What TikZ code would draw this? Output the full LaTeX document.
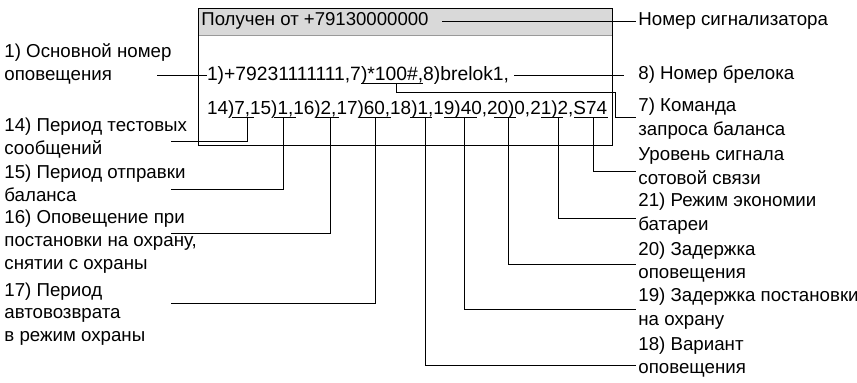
\documentclass[tikz,border=0pt]{standalone}
\usepackage{fontspec}
\setmainfont{Liberation Sans}
\usetikzlibrary{positioning,calc}

\tikzset{
  lbl/.style={inner sep=1pt, align=left, font=\fontsize{9.35}{11.4}\selectfont},
  rlbl/.style={lbl, font=\fontsize{9.35}{11.9}\selectfont},
  hdrtext/.style={inner sep=0pt, font=\fontsize{9.3}{11.4}\selectfont},
  row/.style={inner sep=0pt, outer sep=0pt, text height=7pt, text depth=1.2pt, font=\fontsize{9.65}{11.4}\selectfont},
  rowb/.style={row, font=\fontsize{9.47}{11.4}\selectfont},
  wire/.style={line width=0.5pt},
}

\begin{document}
\begin{tikzpicture}[x=0.5pt,y=-0.5pt]
  \useasboundingbox (0,0) rectangle (857,382);

  % SMS frame
  \fill[black!15] (198,8) rectangle (612,35);
  \draw[black!40] (198,35) -- (612,35);
  \draw[wire] (198,8) rectangle (612,145);
  \node[hdrtext, anchor=west] (hdr) at (201,21) {Получен от +79130000000};

  % first row
  \node[row, anchor=west] (r1a) at (207,75) {1)+79231111111,7};
  \node[row, right=0pt of r1a] (v7) {)*100\#,};
  \node[row, right=0pt of v7] (r1c) {8)brelok1,};
  \draw[wire] (v7.south west) -- (v7.south east);

  % second row
  \node[rowb, anchor=west] (k14) at (207,109) {14};
  \node[rowb, right=0pt of k14] (v14) {)7,};
  \node[rowb, right=0pt of v14] (k15) {15};
  \node[rowb, right=0pt of k15] (v15) {)1,};
  \node[rowb, right=0pt of v15] (k16) {16};
  \node[rowb, right=0pt of k16] (v16) {)2,};
  \node[rowb, right=0pt of v16] (k17) {17};
  \node[rowb, right=0pt of k17] (v17) {)60,};
  \node[rowb, right=0pt of v17] (k18) {18};
  \node[rowb, right=0pt of k18] (v18) {)1,};
  \node[rowb, right=0pt of v18] (k19) {19};
  \node[rowb, right=0pt of k19] (v19) {)40,};
  \node[rowb, right=0pt of v19] (k20) {20};
  \node[rowb, right=0pt of k20] (v20) {)0,};
  \node[rowb, right=0pt of v20] (k21) {21};
  \node[rowb, right=0pt of k21] (v21) {)2,};
  \node[rowb, right=0pt of v21] (vS) {S74};

  % underlines (a bit off the values, as drawn by hand)
  \foreach \n/\u in {v14/2,v15/1.5,v16/1,v17/0.5,v18/-0.5,v19/-5,v20/-7,v21/-5,vS/0.5}
    \draw[wire] ([xshift=\u pt]\n.south west) -- ([xshift=\u pt]\n.south east);

  % left labels
  \node[lbl, anchor=west] (l1) at (2,64) {1) Основной номер\\оповещения};
  \node[lbl, anchor=west] (l14) at (2,138) {14) Период тестовых\\сообщений};
  \node[lbl, anchor=west] (l15) at (2,183.5) {15) Период отправки\\баланса};
  \node[lbl, anchor=west] (l16) at (2,241.5) {16) Оповещение при\\постановки на охрану,\\снятии с охраны};
  \node[lbl, anchor=west] (l17) at (2,314) {17) Период\\автовозврата\\в режим охраны};

  % right labels
  \node[rlbl, anchor=west] (lN) at (636,21) {Номер сигнализатора};
  \node[rlbl, anchor=west] (l8) at (636,75) {8) Номер брелока};
  \node[rlbl, anchor=west] (l7) at (636,119) {7) Команда\\запроса баланса};
  \node[rlbl, anchor=west] (lS) at (636,166.5) {Уровень сигнала\\сотовой связи};
  \node[rlbl, anchor=west] (l21) at (636,214) {21) Режим экономии\\батареи};
  \node[rlbl, anchor=west] (l20) at (636,262) {20) Задержка\\оповещения};
  \node[rlbl, anchor=west] (l19) at (636,309) {19) Задержка постановки\\на охрану};
  \node[rlbl, anchor=west] (l18) at (636,357) {18) Вариант\\оповещения};

  \coordinate (lone) at (157,0);
  \coordinate (lend) at (171,0);
  \coordinate (k7) at (615,92);

  % connectors
  \draw[wire] ([xshift=6.5pt]hdr.east) -- (lN.west);
  \draw[wire] ([xshift=2.5pt]r1c.east) -- ([xshift=-6pt]l8.west);
  \draw[wire] (r1a.west) -- (r1a.west -| lone);
  \draw[wire] ([xshift=2pt]v7.south) |- (k7) |- ($(l7.west)+(0,-2)$);
  \draw[wire] ([xshift=4pt]v14.south) |- ($(l14.east -| lend)+(0,3)$);
  \draw[wire] ([xshift=0.5pt]v15.south) |- ($(l15.east -| lend)+(0,5.5)$);
  \draw[wire] ([xshift=2.5pt]v16.south) |- ($(l16.east -| lend)+(0,-8)$);
  \draw[wire] ([xshift=0.75pt]v17.south) |- ($(l17.east -| lend)+(0,-11)$);
  \draw[wire] ([xshift=1.5pt]v18.south) |- ($(l18.west)+(0,8)$);
  \draw[wire] ([xshift=-3pt]v19.south) |- (l19.west);
  \draw[wire] ([xshift=-5.5pt]v20.south) |- ($(l20.west)+(0,2)$);
  \draw[wire] ([xshift=-2pt]v21.south) |- ($(l21.west)+(0,4)$);
  \draw[wire] ([xshift=1.5pt]vS.south) |- ($(lS.west)+(0,4.5)$);
\end{tikzpicture}
\end{document}
